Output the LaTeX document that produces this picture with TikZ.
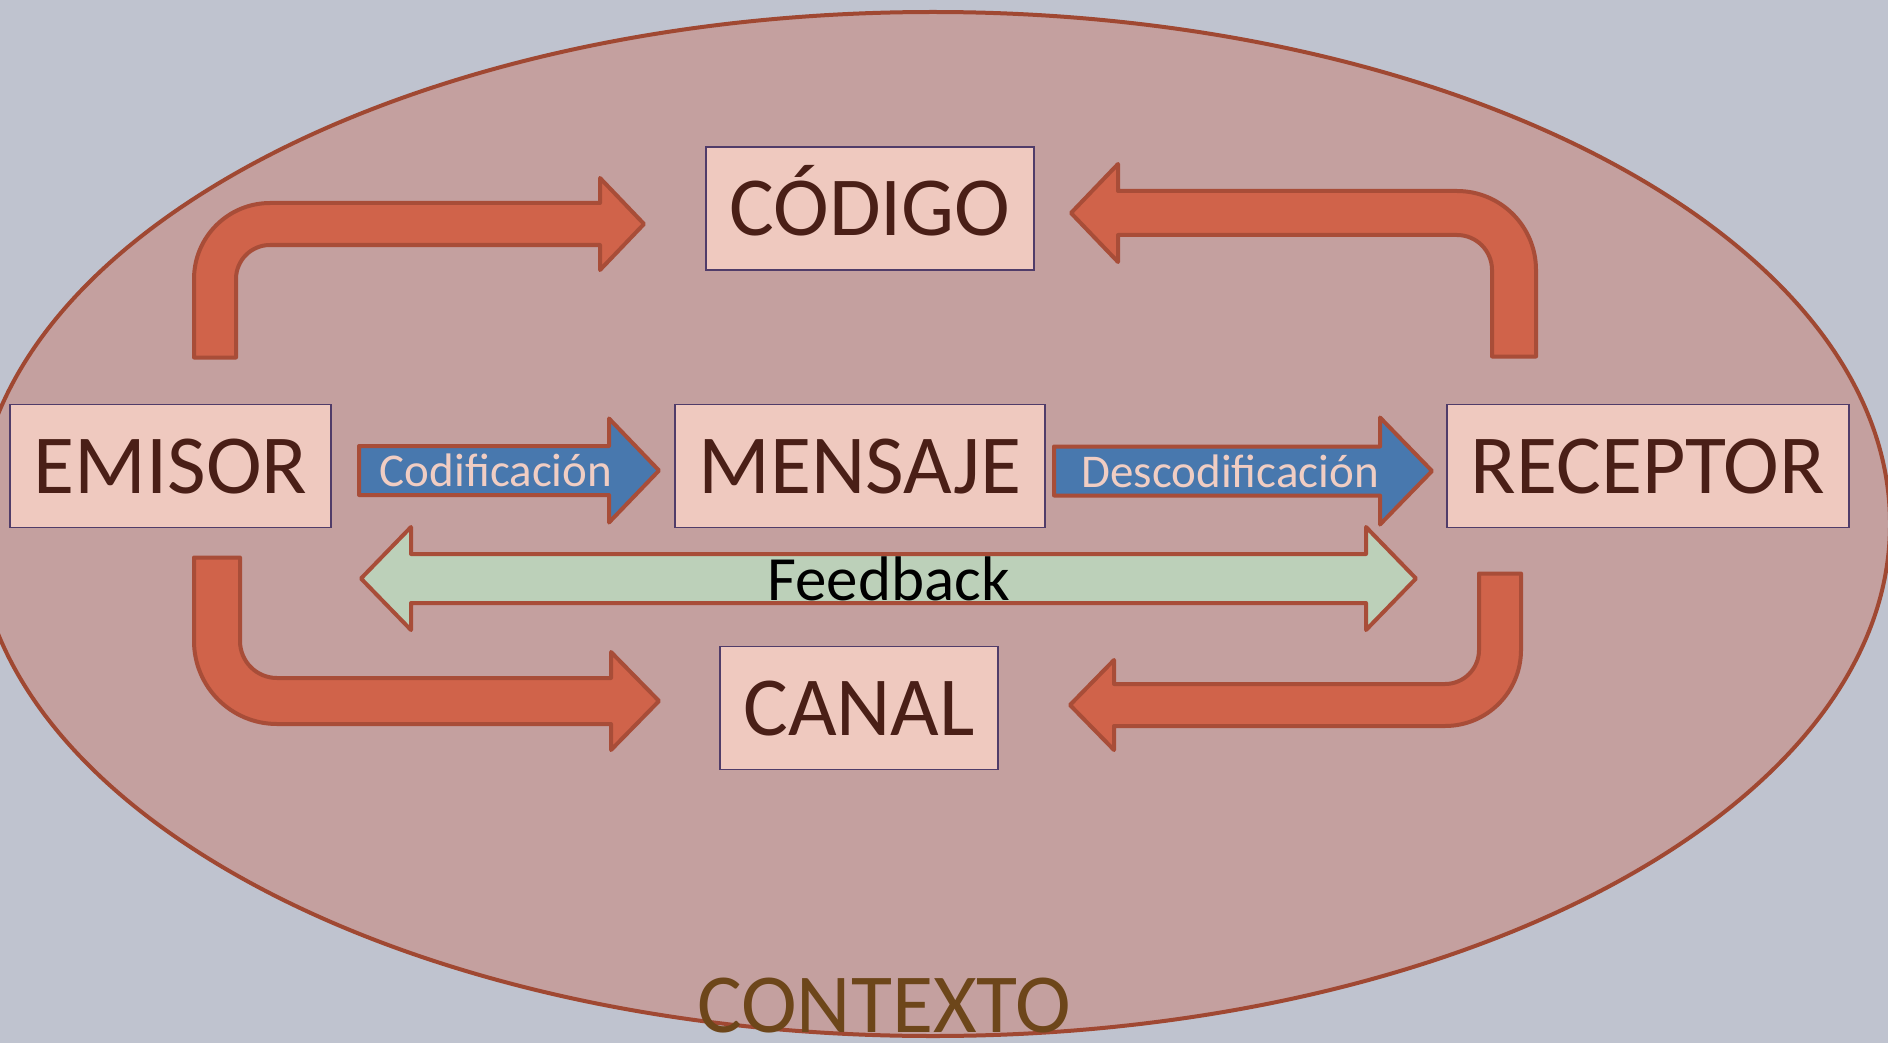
\documentclass[tikz,border=0pt]{standalone}
\usepackage{fontspec}
\setmainfont{Carlito}
\usetikzlibrary{calc}

\definecolor{bgcol}{RGB}{191,195,207}
\definecolor{ctxfill}{RGB}{196,160,159}
\definecolor{ctxline}{RGB}{160,72,50}
\definecolor{ctxtext}{RGB}{109,70,26}
\definecolor{boxfill}{RGB}{239,201,191}
\definecolor{boxline}{RGB}{80,60,105}
\definecolor{boxtext}{RGB}{74,31,23}
\definecolor{redfill}{RGB}{208,99,74}
\definecolor{arrowline}{RGB}{168,77,56}
\definecolor{bluefill}{RGB}{72,120,174}
\definecolor{greenfill}{RGB}{188,208,185}
\definecolor{paletext}{RGB}{240,205,195}

\tikzset{
  box/.style={draw=boxline, line width=0.85pt, fill=boxfill, text=boxtext,
    font=\fontsize{42}{50}\selectfont, minimum height=61.5pt,
    inner sep=0pt, outer sep=0pt, text height=27pt, text depth=0pt},
  blockarrow/.style={draw=arrowline, line width=2pt, line join=round},
  rarrow/.style n args={3}{blockarrow, to path={
    ($(\tikztostart)+(0,-#1)$) -- ($(\tikztotarget)+(-#3,-#1)$)
    -- ($(\tikztotarget)+(-#3,-#2)$) -- (\tikztotarget)
    -- ($(\tikztotarget)+(-#3,#2)$) -- ($(\tikztotarget)+(-#3,#1)$)
    -- ($(\tikztostart)+(0,#1)$) -- cycle}},
  darrow/.style n args={3}{blockarrow, to path={
    (\tikztostart) -- ($(\tikztostart)+(#3,-#2)$) -- ($(\tikztostart)+(#3,-#1)$)
    -- ($(\tikztotarget)+(-#3,-#1)$) -- ($(\tikztotarget)+(-#3,-#2)$)
    -- (\tikztotarget) -- ($(\tikztotarget)+(-#3,#2)$)
    -- ($(\tikztotarget)+(-#3,#1)$) -- ($(\tikztostart)+(#3,#1)$)
    -- ($(\tikztostart)+(#3,#2)$) -- cycle}},
  bentarrow/.style n args={6}{blockarrow, fill=redfill, to path={
    ($(\tikztostart)+({-(#1)*#3},0)$)
    -- ($(\tikztostart |- \tikztotarget)+({-(#1)*#3},{-(#2)*#6})$)
    .. controls +(0,{#2*0.5523*(#6+#3)}) and +({-(#1)*0.5523*(#6+#3)},0) ..
    ($(\tikztostart |- \tikztotarget)+({#1*#6},{#2*#3})$)
    -- ($(\tikztotarget)+({-(#1)*#5},{#2*#3})$)
    -- ($(\tikztotarget)+({-(#1)*#5},{#2*#4})$)
    -- (\tikztotarget)
    -- ($(\tikztotarget)+({-(#1)*#5},{-(#2)*#4})$)
    -- ($(\tikztotarget)+({-(#1)*#5},{-(#2)*#3})$)
    -- ($(\tikztostart |- \tikztotarget)+({#1*#6},{-(#2)*#3})$)
    .. controls +({-(#1)*0.5523*(#6-#3)},0) and +(0,{#2*0.5523*(#6-#3)}) ..
    ($(\tikztostart |- \tikztotarget)+({#1*#3},{-(#2)*#6})$)
    -- ($(\tikztostart)+({#1*#3},0)$) -- cycle}},
  arrowtext/.style={text=paletext, font=\fontsize{23.5}{28}\selectfont, inner sep=0pt},
  fbtext/.style={text=black, font=\fontsize{31.5}{38}\selectfont, inner sep=0pt},
  ctxlabel/.style={text=ctxtext, font=\fontsize{42}{50}\selectfont, inner sep=0pt}
}

\begin{document}
\begin{tikzpicture}[x={(0.5pt,0pt)}, y={(0pt,-0.5pt)}]
  \useasboundingbox (0,0) rectangle (1888,1043);
  \fill[bgcol] (0,0) rectangle (1888,1043);
  \filldraw[fill=ctxfill, draw=ctxline, line width=2pt] (933,524) ellipse [x radius=957, y radius=512];
  \node[ctxlabel, anchor=base] (contexto) at (884,1032) {CONTEXTO};

  \node[box, minimum width=160.5pt] (emisor) at (170.5,466) {EMISOR};
  \node[box, minimum width=185pt] (mensaje) at (860,466) {MENSAJE};
  \node[box, minimum width=201pt] (receptor) at (1648,466) {RECEPTOR};
  \node[box, minimum width=164pt] (codigo) at (870,208.5) {CÓDIGO};
  \node[box, minimum width=139pt] (canal) at (859,708) {CANAL};

  \coordinate (codA) at ($(emisor.east)+(28,4.5)$);
  \coordinate (codB) at ($(mensaje.west)+(-16,4.5)$);
  \coordinate (desA) at ($(mensaje.east)+(9,5)$);
  \coordinate (desB) at ($(receptor.west)+(-15,5)$);
  \coordinate (fbA) at ($(emisor.east)+(30,112.5)$);
  \coordinate (fbB) at ($(receptor.west)+(-31,112.5)$);
  \coordinate (tlS) at ($(emisor.north)+(44.5,-47)$);
  \coordinate (tlT) at ($(codigo.west)+(-62,15.5)$);
  \coordinate (trS) at ($(receptor.north)+(-134,-48)$);
  \coordinate (trT) at ($(codigo.east)+(37,4.5)$);
  \coordinate (blS) at ($(emisor.south)+(46.5,30)$);
  \coordinate (blT) at ($(canal.west)+(-61,-7)$);
  \coordinate (brS) at ($(receptor.south)+(-148,46)$);
  \coordinate (brT) at ($(canal.east)+(72,-3)$);

  \draw[rarrow={24.5}{52}{50}, fill=bluefill] (codA) to (codB);
  \draw[rarrow={24.5}{53.5}{52}, fill=bluefill] (desA) to (desB);
  \draw[darrow={24.5}{51.5}{50}, fill=greenfill] (fbA) to (fbB);
  \node[arrowtext] (codtxt) at ($(codA)!.457!(codB)$) {Codificación};
  \node[arrowtext] (destxt) at ($(desA)!.466!(desB)$) {Descodificación};
  \node[fbtext] (fbtxt) at ($(fbA)!.5!(fbB)$) {Feedback};

  \draw[bentarrow={1}{-1}{21}{46}{44}{55}] (tlS) to (tlT);
  \draw[bentarrow={-1}{-1}{22}{49}{47}{57}] (trS) to (trT);
  \draw[bentarrow={1}{1}{23}{49}{48}{60}] (blS) to (blT);
  \draw[bentarrow={-1}{1}{21}{45}{44}{55}] (brS) to (brT);
\end{tikzpicture}
\end{document}
